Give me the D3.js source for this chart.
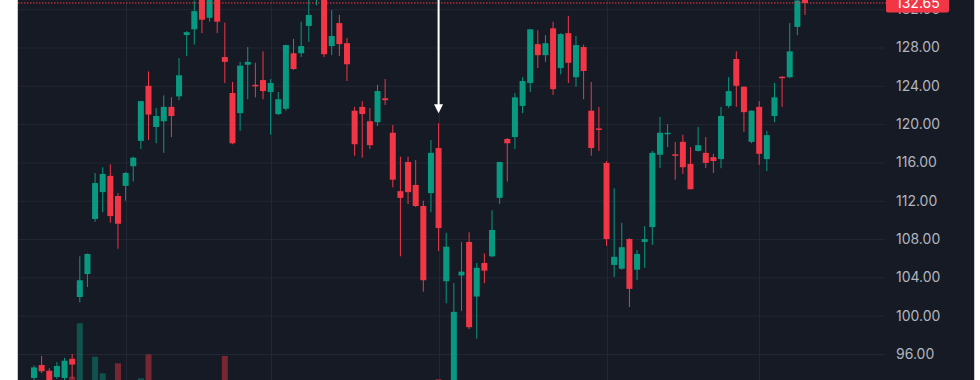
<!DOCTYPE html>
<html><head><meta charset="utf-8">
<script src="https://cdn.jsdelivr.net/npm/d3@7"></script>
<style>html,body{margin:0;padding:0;background:#fff;overflow:hidden}svg{display:block}</style>
</head><body>
<svg id="c" width="980" height="380"></svg>
<script>
const dates = [
"2024-05-15","2024-05-16","2024-05-17","2024-05-20","2024-05-21","2024-05-22","2024-05-23","2024-05-24","2024-05-28","2024-05-29","2024-05-30","2024-05-31",
"2024-06-03","2024-06-04","2024-06-05","2024-06-06","2024-06-07","2024-06-10","2024-06-11","2024-06-12","2024-06-13","2024-06-14","2024-06-17","2024-06-18","2024-06-20","2024-06-21","2024-06-24","2024-06-25","2024-06-26","2024-06-27","2024-06-28",
"2024-07-01","2024-07-02","2024-07-03","2024-07-05","2024-07-08","2024-07-09","2024-07-10","2024-07-11","2024-07-12","2024-07-15","2024-07-16","2024-07-17","2024-07-18","2024-07-19","2024-07-22","2024-07-23","2024-07-24","2024-07-25","2024-07-26","2024-07-29","2024-07-30","2024-07-31",
"2024-08-01","2024-08-02","2024-08-05","2024-08-06","2024-08-07","2024-08-08","2024-08-09","2024-08-12","2024-08-13","2024-08-14","2024-08-15","2024-08-16","2024-08-19","2024-08-20","2024-08-21","2024-08-22","2024-08-23","2024-08-26","2024-08-27","2024-08-28","2024-08-29","2024-08-30",
"2024-09-03","2024-09-04","2024-09-05","2024-09-06","2024-09-09","2024-09-10","2024-09-11","2024-09-12","2024-09-13","2024-09-16","2024-09-17","2024-09-18","2024-09-19","2024-09-20","2024-09-23","2024-09-24","2024-09-25","2024-09-26","2024-09-27","2024-09-30",
"2024-10-01","2024-10-02","2024-10-03","2024-10-04","2024-10-07","2024-10-08","2024-10-09"];

const opens = [93.5,94.85,94.25,93.6,93.5,95.5,101.95,104.35,110.1,112.9,114.6,112.5,
113.55,115.6,118.25,124.0,119.7,120.3,121.8,122.9,129.3,129.9,133.0,131.1,139.8,127.0,123.25,121.15,126.2,124.1,124.6,
123.35,121.05,121.6,127.4,127.4,130.25,134.0,135.7,128.15,130.55,128.45,121.4,121.8,120.3,120.2,122.7,119.1,113.0,116.05,113.65,111.45,112.8,
117.5,103.6,92.0,104.2,107.7,102.0,105.5,106.2,112.3,118.45,118.65,121.9,124.3,128.35,127.2,130.0,125.85,129.5,124.9,128.05,121.4,119.55,
115.95,105.3,104.9,108.0,104.8,107.7,109.25,116.8,119.0,116.85,118.15,115.85,117.2,117.0,116.55,116.35,121.9,126.8,123.9,118.15,
121.8,116.35,120.85,124.95,124.9,130.15,134.1];

const highs = [94.8,95.8,94.5,95.15,95.6,96.0,106.2,106.5,114.9,115.5,115.8,112.8,
115.0,116.6,122.45,125.5,121.7,123.0,122.8,126.9,129.7,132.9,133.8,136.3,140.8,130.6,124.4,126.5,128.05,126.4,127.6,
124.7,123.35,128.3,128.9,130.7,133.8,135.1,136.1,131.9,131.4,129.0,121.8,122.4,121.7,124.1,124.7,119.9,116.6,116.6,116.25,112.0,118.35,
120.1,108.65,103.4,107.7,108.7,105.5,106.5,111.0,116.05,118.55,123.25,124.9,129.9,129.8,129.3,130.7,129.5,131.3,129.2,128.3,124.4,121.8,
116.15,113.3,109.7,108.1,106.85,109.35,117.2,120.75,120.0,118.15,118.9,117.6,119.7,118.65,116.9,121.8,124.9,127.6,123.95,121.45,
122.4,119.3,124.3,125.0,130.55,133.4,134.5];

const lows = [93.0,94.0,92.2,93.4,93.2,93.4,101.4,103.0,109.8,110.8,109.7,107.0,
112.0,114.0,117.4,118.35,118.0,117.0,118.65,122.5,127.1,128.3,129.5,130.7,129.5,124.3,117.9,119.3,122.6,122.8,122.6,
118.9,120.95,121.4,125.65,127.0,128.6,132.4,127.0,127.2,127.1,124.5,116.7,116.5,117.4,119.8,122.0,113.4,106.2,111.65,111.35,102.5,110.8,
106.75,101.3,90.7,100.5,98.6,97.6,103.4,106.1,111.65,114.0,117.4,121.15,123.35,125.85,126.5,123.05,125.2,124.3,123.9,122.6,116.7,117.2,
107.3,104.05,104.8,100.9,103.7,105.0,107.4,115.4,117.6,114.2,114.8,113.2,117.15,115.4,114.9,115.4,121.7,121.8,119.2,118.0,
115.75,115.1,120.2,121.8,124.8,129.3,131.4];

const closes = [94.6,94.2,92.5,94.75,95.3,94.9,103.7,106.44,113.85,114.8,110.4,109.6,
114.9,116.5,122.4,121.0,120.85,121.8,120.85,125.1,129.6,131.8,130.9,135.6,130.7,126.5,118.0,126.1,126.5,124.0,123.45,
124.3,122.6,128.25,125.75,128.15,131.4,134.9,127.3,129.2,128.35,126.25,117.9,121.05,117.8,123.45,122.5,114.2,112.3,112.9,111.45,103.7,117.0,
109.15,107.2,100.4,104.6,98.8,105.0,104.7,108.95,116.05,118.0,122.8,124.5,129.9,127.2,128.45,123.65,129.4,126.4,128.25,125.55,117.5,119.4,
108.0,106.15,107.15,102.8,106.45,108.0,117.0,119.1,119.1,116.75,115.5,113.2,117.8,115.95,116.15,120.85,123.45,124.0,121.25,121.4,
116.9,118.85,122.8,124.8,127.6,132.9,132.65];

const volumes = [300,300,270,260,250,531,835,430,645,550,490,607,
440,330,522,658,410,310,310,320,420,310,490,500,505,649,476,480,360,300,360,
220,220,170,310,290,240,250,390,250,250,330,390,320,310,260,210,340,500,240,250,490,490,
518,480,505,410,410,400,290,330,370,340,320,300,320,300,260,380,320,330,300,450,450,330,
500,370,330,410,270,240,440,370,260,250,230,310,290,380,210,350,250,270,270,230,
300,220,230,240,350,280,280];

const yTicks = [96,100,104,108,112,116,120,124,128,132];
const lastPrice = 132.65;
const markerDate = "2024-08-01";

const UP = "#089981", DOWN = "#f23645";
const FONT = "Inter, 'Noto Sans', sans-serif";
const svg = d3.select("#c");
const W = 980, H = 380;
const left = 18, right = 974, gridRight = 885;

const x = d3.scalePoint().domain(dates).range([34, 805]);
const y = d3.scaleLinear().domain([96, 128]).range([354, 47.5]);
const yVol = d3.scaleLinear().domain([0, 835]).range([470, 323.3]);
const bw = 6;

// background
svg.append("rect").attr("x", 0).attr("y", 0).attr("width", W).attr("height", H).attr("fill", "#ffffff");
svg.append("rect").attr("x", left).attr("y", 0).attr("width", right - left).attr("height", H).attr("fill", "#161a25");
svg.append("line").attr("x1", left - 0.5).attr("x2", left - 0.5).attr("y1", 0).attr("y2", H).attr("stroke", "#c9cbd0").attr("stroke-width", 1);
svg.append("line").attr("x1", right + 0.5).attr("x2", right + 0.5).attr("y1", 0).attr("y2", H).attr("stroke", "#c9cbd0").attr("stroke-width", 1);

// horizontal grid
const gGrid = svg.append("g").attr("transform", `translate(${left},0)`)
  .call(d3.axisRight(y).tickValues(yTicks).tickSize(gridRight - left).tickFormat(""));
gGrid.select(".domain").remove();
gGrid.selectAll("line").attr("stroke", "#232733").attr("stroke-width", 1);

// vertical grid at month starts
const monthStarts = dates.filter((d, i) => i > 0 && d.slice(5, 7) !== dates[i - 1].slice(5, 7));
svg.append("g").selectAll("line").data(monthStarts).join("line")
  .attr("x1", d => Math.round(x(d)) + 0.5).attr("x2", d => Math.round(x(d)) + 0.5)
  .attr("y1", 0).attr("y2", H).attr("stroke", "#232733").attr("stroke-width", 1);

const data = dates.map((d, i) => ({d, o: opens[i], h: highs[i], l: lows[i], c: closes[i], v: volumes[i]}));

const plot = svg.append("g");
// volume
plot.append("g").selectAll("rect").data(data).join("rect")
  .attr("x", k => x(k.d) - bw / 2).attr("width", bw)
  .attr("y", k => yVol(k.v)).attr("height", k => yVol(0) - yVol(k.v))
  .attr("fill", k => k.c >= k.o ? UP : DOWN).attr("fill-opacity", 0.45);

// wicks
plot.append("g").selectAll("line").data(data).join("line")
  .attr("x1", k => x(k.d)).attr("x2", k => x(k.d))
  .attr("y1", k => y(k.h)).attr("y2", k => y(k.l))
  .attr("stroke", k => k.c >= k.o ? UP : DOWN).attr("stroke-width", 1);

// bodies
plot.append("g").selectAll("rect").data(data).join("rect")
  .attr("x", k => x(k.d) - bw / 2).attr("width", bw)
  .attr("y", k => y(Math.max(k.o, k.c)))
  .attr("height", k => Math.max(1.5, Math.abs(y(k.o) - y(k.c))))
  .attr("fill", k => k.c >= k.o ? UP : DOWN);

// last price dotted line
svg.append("line").attr("x1", left).attr("x2", 886).attr("y1", y(lastPrice)).attr("y2", y(lastPrice))
  .attr("stroke", DOWN).attr("stroke-width", 1).attr("stroke-dasharray", "1.5,1.5");

// y axis labels
const gAxis = svg.append("g").attr("transform", "translate(896,0)")
  .call(d3.axisRight(y).tickValues(yTicks).tickSize(0).tickPadding(0).tickFormat(d3.format(".2f")));
gAxis.select(".domain").remove();
gAxis.selectAll("text").attr("fill", "#b2b5be").attr("font-family", FONT)
  .attr("font-size", 14).attr("text-anchor", "start");

// last price label
const ly = y(lastPrice);
svg.append("rect").attr("x", 886).attr("y", ly - 9.5).attr("width", 63).attr("height", 19).attr("rx", 2)
  .attr("fill", DOWN);
svg.append("text").attr("x", 896).attr("y", ly).attr("dy", "0.35em")
  .attr("fill", "#ffffff").attr("font-family", FONT).attr("font-size", 14)
  .text(d3.format(".2f")(lastPrice));

// marker arrow
const ax = x(markerDate);
const tipY = y(highs[dates.indexOf(markerDate)]) - 10;
svg.append("line").attr("x1", ax).attr("x2", ax).attr("y1", 0).attr("y2", tipY - 7)
  .attr("stroke", "#ffffff").attr("stroke-width", 2);
svg.append("path").attr("d", `M${ax - 4.5},${tipY - 9} L${ax + 4.5},${tipY - 9} L${ax},${tipY} Z`)
  .attr("fill", "#ffffff");
</script>
</body></html>
